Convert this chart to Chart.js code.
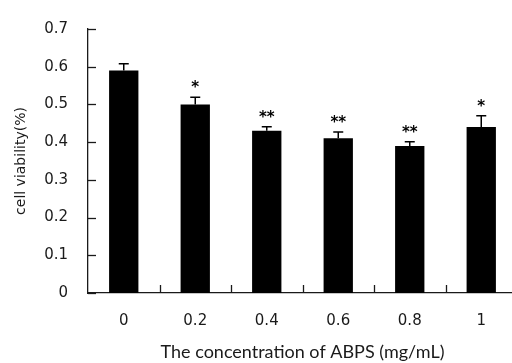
<!DOCTYPE html>
<html lang="en">
  <head>
    <title>Cell viability</title>
    <script src="https://cdn.jsdelivr.net/npm/chart.js@4.4.1/dist/chart.umd.min.js"></script>
    <style>
      html, body { margin: 0; padding: 0; background: #fff; overflow: hidden; }
      #wrap { width: 530px; height: 363px; }
    </style>
  </head>
  <body>
    <div id="wrap">
      <canvas id="viabilityChart" width="530" height="363"></canvas>
    </div>
    <script>
      // data
      const concentrations = ["0", "0.2", "0.4", "0.6", "0.8", "1"];
      const viability = [0.59, 0.50, 0.43, 0.41, 0.39, 0.44];
      const errors = [0.018, 0.019, 0.011, 0.017, 0.011, 0.03];
      const marks = ["", "*", "**", "**", "**", "*"];

      const axisColor = "#1a1a1a";

      // upward error caps + significance stars
      const errorBars = {
        id: "errorBars",
        afterDatasetsDraw(chart) {
          const ctx = chart.ctx;
          const x = chart.scales.x, y = chart.scales.y;
          ctx.save();
          ctx.strokeStyle = "#000";
          ctx.lineWidth = 1.5;
          viability.forEach((v, i) => {
            const px = x.getPixelForValue(i);
            const top = y.getPixelForValue(v + errors[i]);
            const base = y.getPixelForValue(v);
            ctx.beginPath();
            ctx.moveTo(px, base);
            ctx.lineTo(px, top);
            ctx.moveTo(px - 5, top);
            ctx.lineTo(px + 5, top);
            ctx.stroke();
            if (marks[i]) {
              ctx.fillStyle = "#000";
              ctx.font = "bold 15px 'DejaVu Sans'";
              ctx.textAlign = "center";
              ctx.textBaseline = "middle";
              ctx.fillText(marks[i], px, top - 9);
            }
          });
          ctx.restore();
        }
      };

      // tick marks point into the plot, like the original
      const innerTicks = {
        id: "innerTicks",
        afterDraw(chart) {
          const ctx = chart.ctx;
          const x = chart.scales.x, y = chart.scales.y;
          const area = chart.chartArea;
          ctx.save();
          ctx.strokeStyle = axisColor;
          ctx.lineWidth = 1.3;
          y.ticks.forEach(t => {
            const py = Math.round(y.getPixelForValue(t.value)) + 0.5;
            ctx.beginPath();
            ctx.moveTo(area.left, py);
            ctx.lineTo(area.left + 8, py);
            ctx.stroke();
          });
          for (let i = 0; i < concentrations.length; i++) {
            const px = Math.round((x.getPixelForValue(i) + x.getPixelForValue(i + 1)) / 2) + 0.5;
            ctx.beginPath();
            ctx.moveTo(px, area.bottom);
            ctx.lineTo(px, area.bottom - 8);
            ctx.stroke();
          }
          ctx.restore();
        }
      };

      const chart = new Chart(document.getElementById("viabilityChart"), {
        type: "bar",
        data: {
          labels: concentrations,
          datasets: [{
            data: viability,
            backgroundColor: "#000",
            borderWidth: 0,
            categoryPercentage: 1,
            barPercentage: 0.41
          }]
        },
        options: {
          responsive: false,
          animation: false,
          layout: { padding: { top: 19, right: 13, left: 0, bottom: 0 } },
          plugins: { legend: { display: false }, tooltip: { enabled: false } },
          scales: {
            x: {
              grid: { display: false, drawTicks: false },
              border: { display: true, color: axisColor, width: 1.3 },
              ticks: { color: "#1a1a1a", font: { family: "DejaVu Sans", size: 15 }, padding: 19 },
              title: {
                display: true,
                text: "The concentration of ABPS (mg/mL)",
                color: "#1a1a1a",
                font: { family: "Lato", size: 18 },
                padding: { top: 2, bottom: 0 }
              },
              afterFit: s => { s.height = 70; }
            },
            y: {
              min: 0,
              max: 0.7,
              grid: { display: false, drawTicks: false },
              border: { display: true, color: axisColor, width: 1.3 },
              ticks: {
                stepSize: 0.1,
                color: "#1a1a1a",
                font: { family: "DejaVu Sans", size: 15 },
                padding: 20,
                callback: v => Number(v.toFixed(1)).toString()
              },
              title: {
                display: true,
                text: "cell viability(%)",
                color: "#1a1a1a",
                font: { family: "DejaVu Sans", size: 14 },
                padding: { top: 13, bottom: 0 }
              },
              afterFit: s => { s.width = 88; }
            }
          }
        },
        plugins: [errorBars, innerTicks]
      });
    </script>
  </body>
</html>
